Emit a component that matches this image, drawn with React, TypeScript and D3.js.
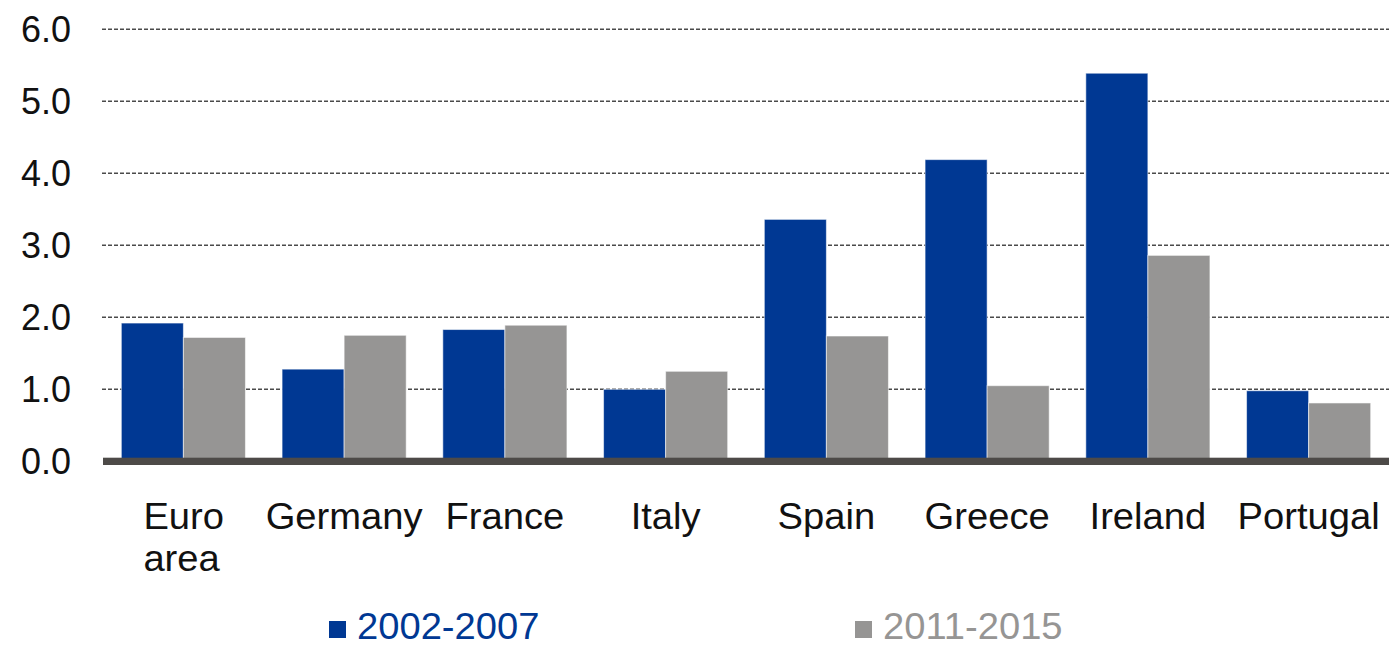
import React from 'react';
import * as d3 from 'd3';

const categories = ['Euro area', 'Germany', 'France', 'Italy', 'Spain', 'Greece', 'Ireland', 'Portugal'];
const seriesNames = ['2002-2007', '2011-2015'];
const values2002 = [1.92, 1.28, 1.83, 1.0, 3.36, 4.19, 5.39, 0.98];
const values2011 = [1.72, 1.75, 1.89, 1.25, 1.74, 1.05, 2.86, 0.81];
const yTicks = [0, 1, 2, 3, 4, 5, 6];

const W = 1389;
const H = 647;
const colors = ['#003893', '#969594'];
const font = 'Arial, "Liberation Sans", sans-serif';

export default function App() {
    const x0 = d3.scaleBand<string>()
        .domain(categories)
        .range([103, 1389])
        .paddingInner(0.228)
        .paddingOuter(0.114);

    const x1 = d3.scaleBand<string>()
        .domain(seriesNames)
        .range([0, x0.bandwidth()]);

    const y = d3.scaleLinear().domain([0, 6]).range([461.3, 29.3]);

    const series = [values2002, values2011];

    return (
        <svg width={W} height={H} style={{ position: 'absolute', left: 0, top: 0, background: '#fff' }}>
            {/* gridlines */}
            {yTicks.filter(t => t > 0).map(t => (
                <line key={'g' + t} x1={102} x2={1389} y1={y(t)} y2={y(t)}
                    stroke="#4a4a4a" strokeWidth={1.4} strokeDasharray="4 2" />
            ))}
            {/* y labels */}
            {yTicks.map(t => (
                <text key={'y' + t} x={71} y={y(t) + 13} textAnchor="end"
                    fontFamily={font} fontSize={36} fill="#111">{d3.format('.1f')(t)}</text>
            ))}
            {/* bars */}
            {categories.map((c, i) => (
                <g key={c} transform={`translate(${x0(c)},0)`}>
                    {seriesNames.map((s, j) => (
                        <rect key={s} x={x1(s)} width={x1.bandwidth()}
                            y={y(series[j][i])} height={y(0) - y(series[j][i])}
                            fill={colors[j]} stroke="rgba(255,255,255,0.55)" strokeWidth={1} />
                    ))}
                </g>
            ))}
            {/* x axis */}
            <rect x={103} y={457.7} width={1286} height={7.3} fill="#4d4a48" />
            {/* category labels */}
            {categories.map(c => {
                const cx = (x0(c) as number) + x0.bandwidth() / 2;
                const multi = c === 'Euro area';
                const words = multi ? ['Euro', 'area'] : [c];
                // two-line label is left aligned in the original
                const tx = multi ? cx - 40 : cx;
                return (
                    <text key={'c' + c} transform={`translate(${tx},529) scale(1.06,1)`}
                        textAnchor={multi ? 'start' : 'middle'} fontFamily={font} fontSize={36} fill="#111">
                        {words.map((w, k) => (
                            <tspan key={k} x={0} dy={k === 0 ? 0 : 42}>{w}</tspan>
                        ))}
                    </text>
                );
            })}
            {/* legend */}
            {seriesNames.map((s, j) => {
                const lx = j === 0 ? 329 : 855;
                return (
                    <g key={'l' + s}>
                        <rect x={lx} y={621} width={17} height={17} fill={colors[j]} />
                        <text transform={`translate(${lx + 28},639) scale(1.06,1)`}
                            fontFamily={font} fontSize={36} fill={colors[j]}>{s}</text>
                    </g>
                );
            })}
        </svg>
    );
}
